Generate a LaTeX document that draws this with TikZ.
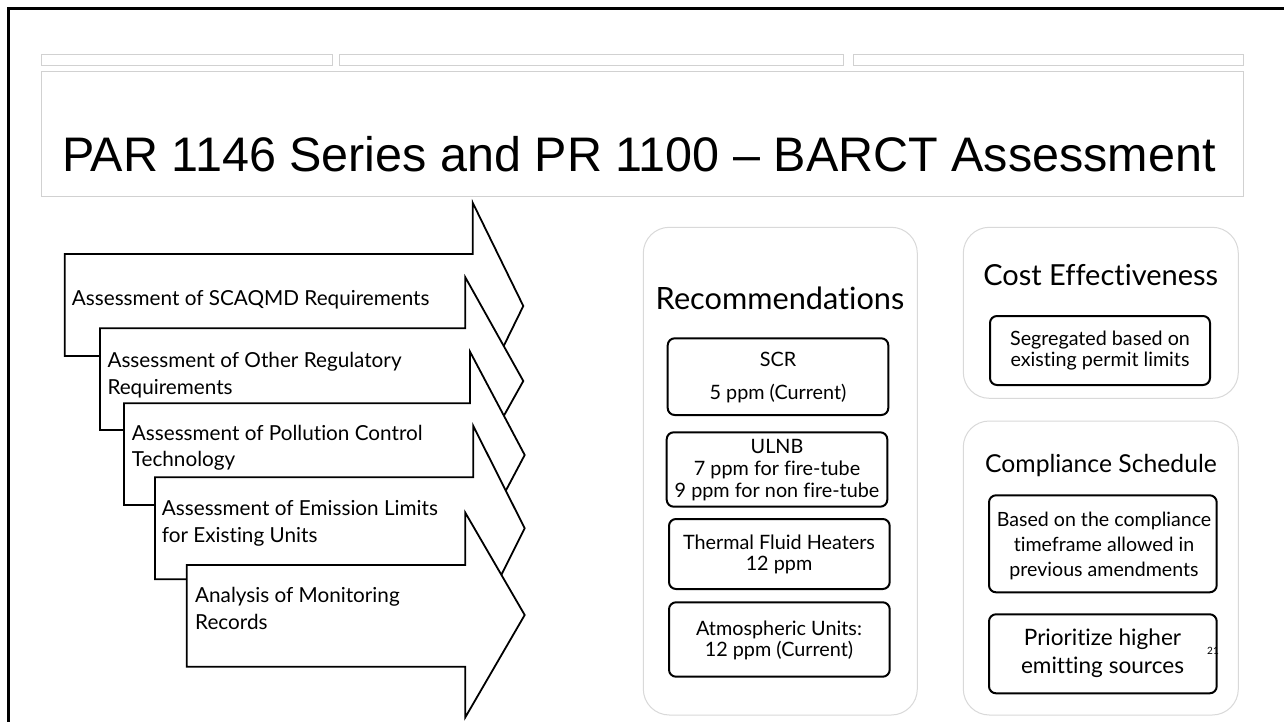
\documentclass[tikz,border=0pt]{standalone}
\usepackage{fontspec}
\setmainfont[Ligatures=NoCommon]{Lato}
\newfontfamily\titlefont{Liberation Sans}
\tikzset{
  frameline/.style={line width=2.5pt, draw=black},
  topbar/.style={draw=black!18, line width=1pt},
  stepshape/.style={draw=black, fill=white, line width=1.8pt, line join=miter},
  steptext/.style={anchor=base west, inner sep=0pt, font=\fontsize{20.7}{26.5}\selectfont, align=left},
  panel/.style={draw=black!15, line width=1pt, rounded corners=26pt},
  ibox/.style={draw=black, line width=2pt, rounded corners=7pt},
  itext/.style={anchor=base, inner sep=0pt, align=center, font=\fontsize{19.8}{22}\selectfont},
}
\begin{document}
\begin{tikzpicture}[x=1pt,y=-1pt]
\useasboundingbox (0,0) rectangle (1284,722);
\fill[white] (0,0) rectangle (1284,722);
% frame
\draw[frameline] (1284,8.5) -- (8.5,8.5) -- (8.5,722);
% top bars
\draw[topbar] (41,55) rectangle (332,66);
\draw[topbar] (339,55) rectangle (843,66);
\draw[topbar] (853,55) rectangle (1243,66);
\draw[topbar] (41,72) rectangle (1243,197);
\node[anchor=base, inner sep=0pt, font=\titlefont\fontsize{48.5}{56}\selectfont] (title) at (639,172) {PAR 1146 Series and PR 1100 – BARCT Assessment};
% step arrows
\draw[stepshape] (64.7,254) -- (472.7,254) -- (472.7,202.7) -- (523.3,306) -- (472.7,409.3) -- (472.7,356) -- (64.7,356) -- cycle;
\node[steptext] (s1) at (71.7,305.7) {Assessment of SCAQMD Requirements};
\draw[stepshape] (100,328.3) -- (465.3,328.3) -- (465.3,277.3) -- (523.3,381) -- (465.3,484.7) -- (465.3,430) -- (100,430) -- cycle;
\node[steptext] (s2) at (107.3,394) {Assessment of Other Regulatory\\Requirements};
\draw[stepshape] (124,403.3) -- (470,403.3) -- (470,351.7) -- (524.7,455) -- (470,558.3) -- (470,505) -- (124,505) -- cycle;
\node[steptext] (s3) at (131.7,466.7) {Assessment of Pollution Control\\Technology};
\draw[stepshape] (155,477.3) -- (473.3,477.3) -- (473.3,426) -- (524.7,528.3) -- (473.3,630.6) -- (473.3,579.3) -- (155,579.3) -- cycle;
\node[steptext] (s4) at (161.7,542.3) {Assessment of Emission Limits\\for Existing Units};
\draw[stepshape] (186.7,565) -- (465.3,565) -- (465.3,512.7) -- (524.7,615) -- (465.3,717.3) -- (465.3,666.7) -- (186.7,666.7) -- cycle;
\node[steptext] (s5) at (195,629.3) {Analysis of Monitoring\\Records};
% Recommendations panel
\draw[panel] (643.3,227.3) rectangle (917.3,715);
\node[anchor=base, inner sep=0pt, font=\fontsize{30.7}{34}\selectfont] (rec) at (780,309.3) {Recommendations};
\draw[ibox] (667.7,338.3) rectangle (888.3,415);
\node[itext] (scr) at (778,366.7) {SCR};
\node[itext] (scrv) at (778,399) {5 ppm (Current)};
\draw[ibox] (666.7,432.3) rectangle (887.3,506.7);
\node[itext] (ulnb) at (777,497.3) {ULNB\\7 ppm for fire-tube\\9 ppm for non fire-tube};
\draw[ibox] (669,519) rectangle (889.7,589);
\node[itext, font=\fontsize{19.8}{21.4}\selectfont] (tfh) at (779,570.7) {Thermal Fluid Heaters\\12 ppm};
\draw[ibox] (669,602.3) rectangle (889.7,676.7);
\node[itext, font=\fontsize{19.8}{21.7}\selectfont] (atm) at (779,656.7) {Atmospheric Units:\\12 ppm (Current)};
% Cost effectiveness panel
\draw[panel] (963.3,227.3) rectangle (1238.3,398.3);
\node[anchor=base, inner sep=0pt, font=\fontsize{29}{34}\selectfont] (cost) at (1100.7,285.7) {Cost Effectiveness};
\draw[ibox] (990,316) rectangle (1210,385);
\node[itext, font=\fontsize{19.7}{21.7}\selectfont] (seg) at (1100,366.7) {Segregated based on\\existing permit limits};
% Compliance schedule panel
\draw[panel] (963.3,421) rectangle (1238.3,715);
\node[anchor=base, inner sep=0pt, font=\fontsize{24.7}{30}\selectfont] (comp) at (1101,472.3) {Compliance Schedule};
\draw[ibox] (989,495.3) rectangle (1216.7,592.3);
\node[itext, font=\fontsize{19.6}{25}\selectfont] (based) at (1104,576.7) {Based on the compliance\\timeframe allowed in\\previous amendments};
\node[anchor=base east, inner sep=0pt, font=\fontsize{10}{12}\selectfont] (pnum) at (1219,654) {21};
\draw[ibox] (989,614.3) rectangle (1216.7,693.3);
\node[itext, font=\fontsize{22.6}{28.3}\selectfont] (prio) at (1102.5,673.3) {Prioritize higher\\emitting sources};
\end{tikzpicture}
\end{document}
